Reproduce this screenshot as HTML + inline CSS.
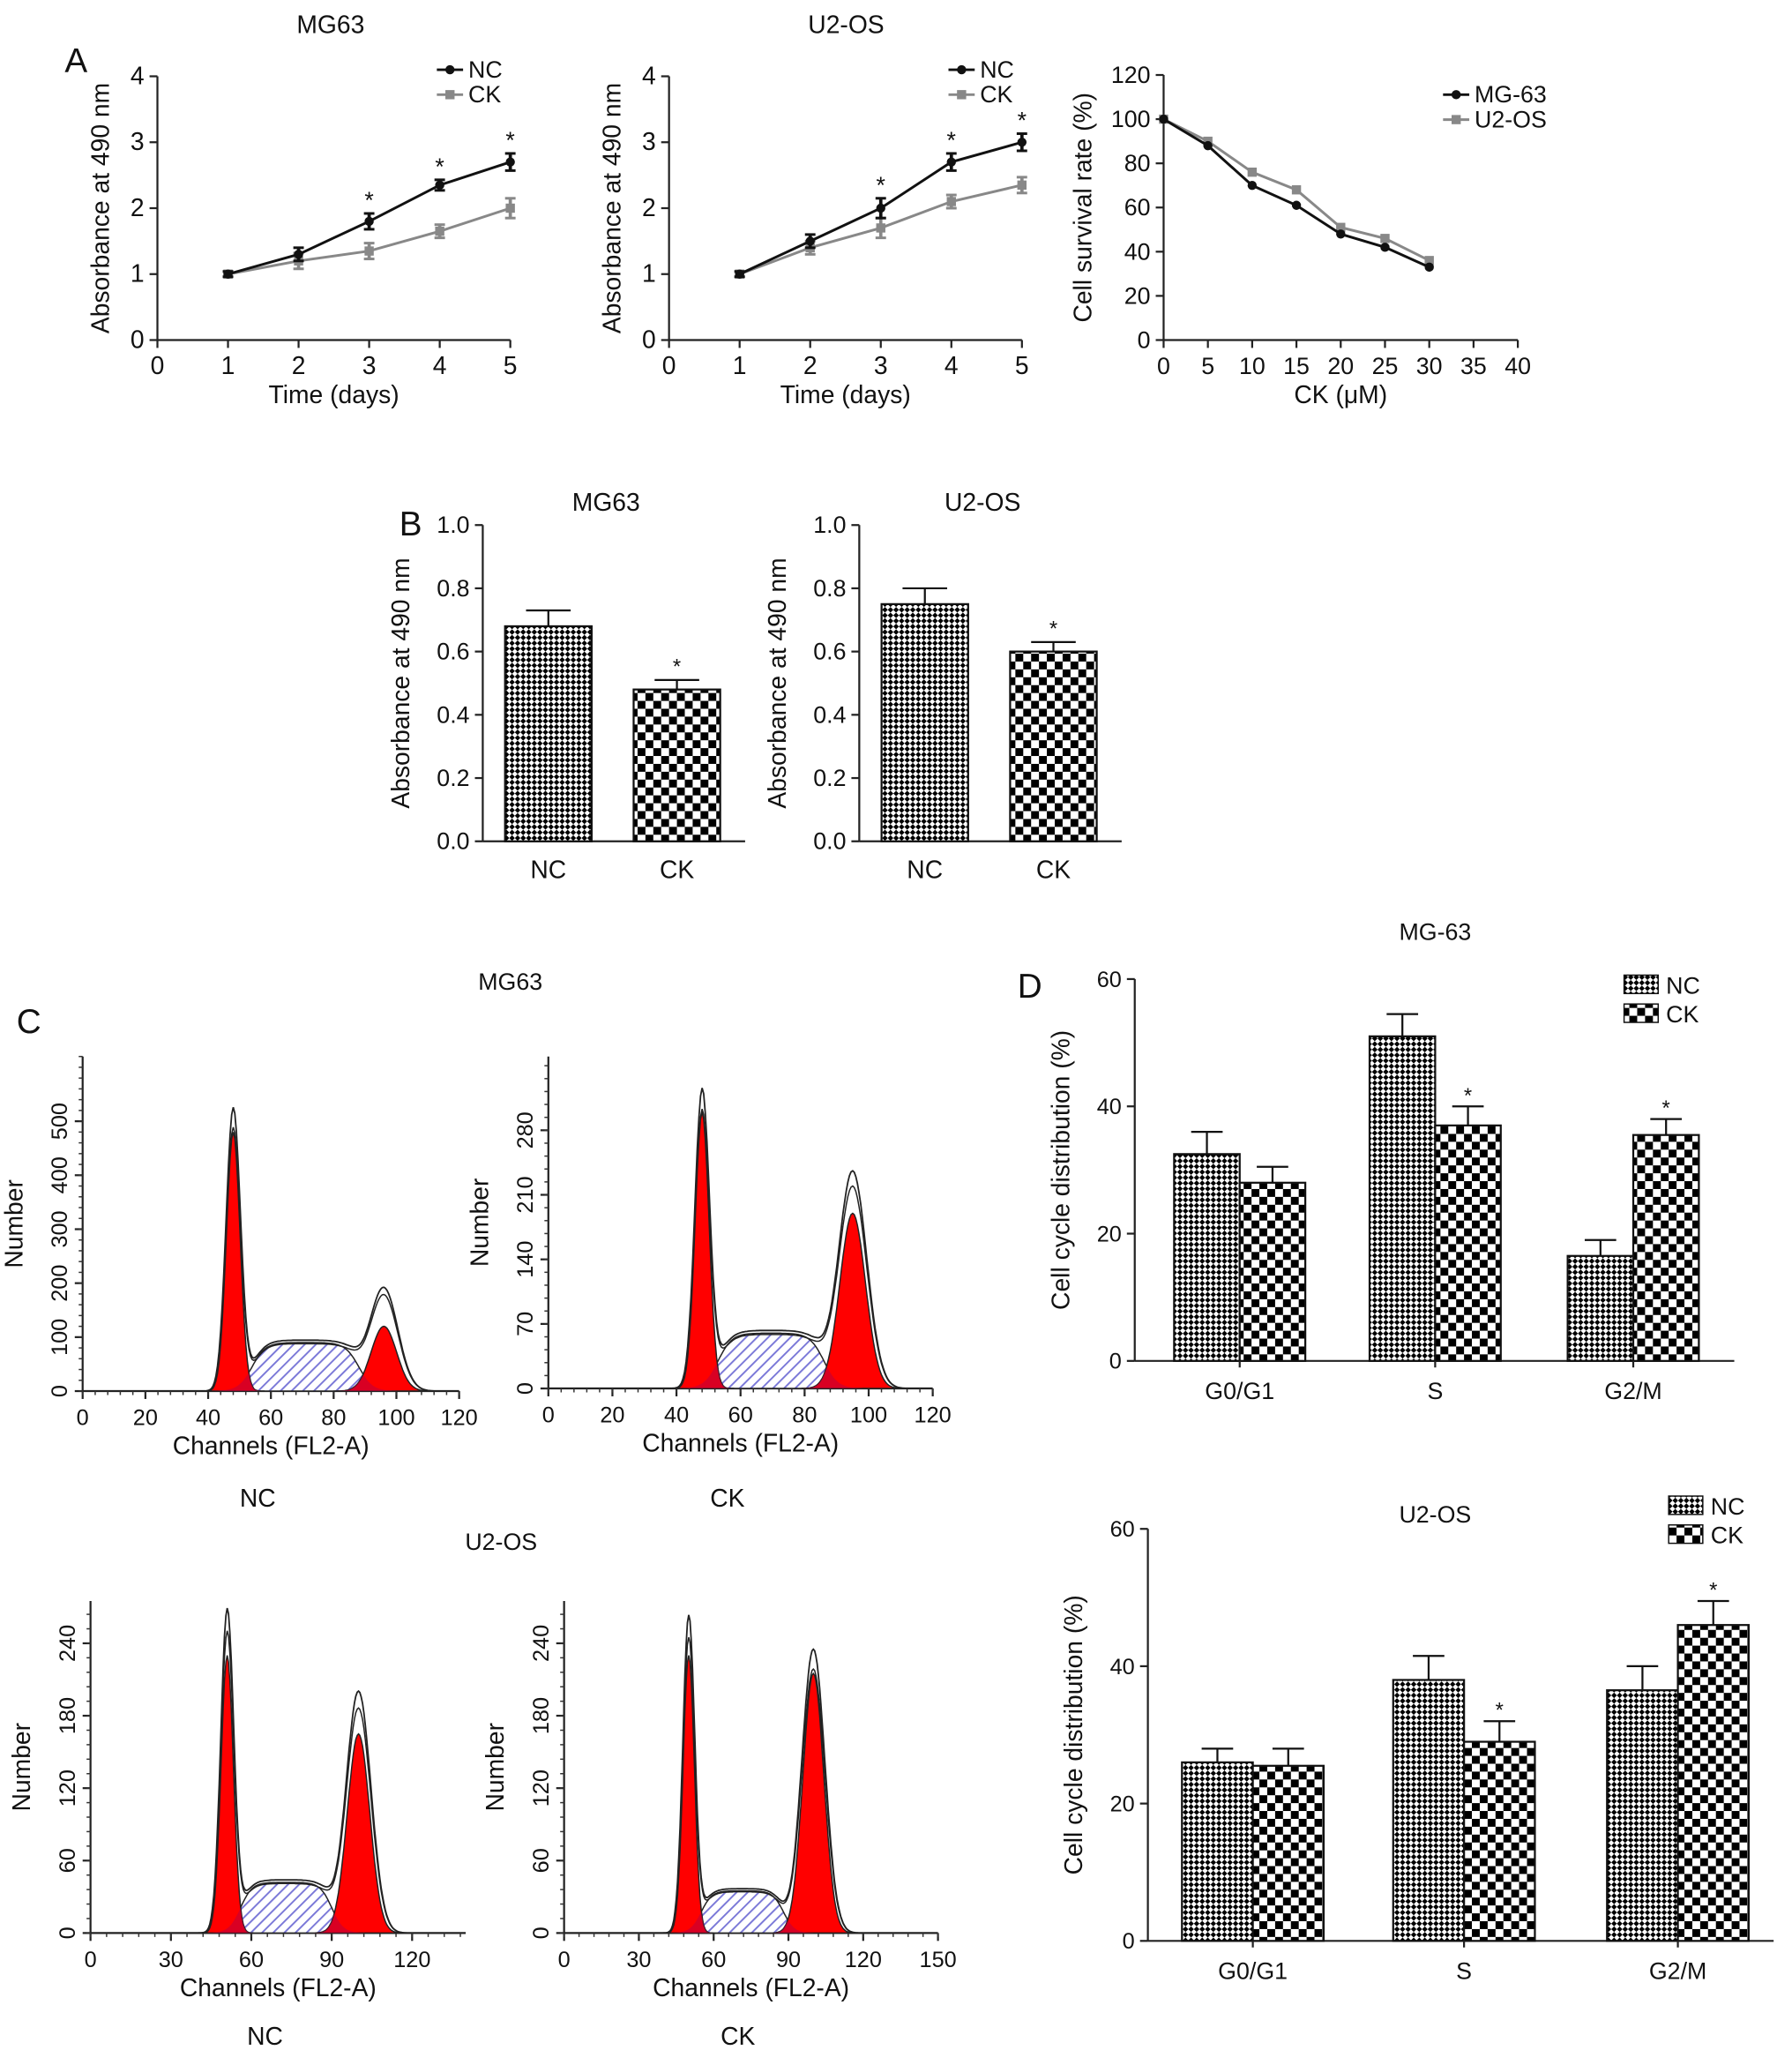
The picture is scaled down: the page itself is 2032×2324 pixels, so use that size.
<!DOCTYPE html>
<html><head><meta charset="utf-8"><style>
html,body{margin:0;padding:0;background:#fff;}
svg{display:block;font-family:"Liberation Sans",Arial,sans-serif;}
</style></head><body>
<svg id="fig" width="2032" height="2324" viewBox="0 0 1366 1562" xmlns="http://www.w3.org/2000/svg">
<defs>
<pattern id="pNC" width="6" height="6" patternUnits="userSpaceOnUse" patternTransform="rotate(45)"><rect width="6" height="6" fill="#fff"/><rect width="3" height="3" fill="#000"/><rect x="3" y="3" width="3" height="3" fill="#000"/></pattern>
<pattern id="pCK" width="12" height="12" patternUnits="userSpaceOnUse"><rect width="12" height="12" fill="#fff"/><rect width="6" height="6" fill="#000"/><rect x="6" y="6" width="6" height="6" fill="#000"/></pattern>
<pattern id="pHatch" width="6" height="6" patternUnits="userSpaceOnUse" patternTransform="rotate(45)"><rect width="6" height="6" fill="#fff"/><rect width="1.3" height="6" fill="#7a78d8"/></pattern>
</defs>
<g id="root"></g>
</svg>
<script>
// ---------- data ----------
const days=[1,2,3,4,5];
const mgNC=[1,1.3,1.8,2.35,2.7], mgNCerr=[0.04,0.1,0.12,0.08,0.13];
const mgCK=[1,1.2,1.35,1.65,2.0], mgCKerr=[0.04,0.12,0.12,0.1,0.15];
const mgStars=[false,false,true,true,true];
const u2NC=[1,1.5,2.0,2.7,3.0], u2NCerr=[0.04,0.1,0.15,0.13,0.13];
const u2CK=[1,1.4,1.7,2.1,2.35], u2CKerr=[0.04,0.1,0.15,0.1,0.12];
const u2Stars=[false,false,true,true,true];
const dose=[0,5,10,15,20,25,30];
const survMG=[100,88,70,61,48,42,33];
const survU2=[100,90,76,68,51,46,36];
const bGroups=['NC','CK'];
const bMG=[0.68,0.48], bMGerr=[0.05,0.03];
const bU2=[0.75,0.60], bU2err=[0.05,0.03];
const phases=['G0/G1','S','G2/M'];
const dMGnc=[32.5,51,16.5], dMGncErr=[3.5,3.5,2.5];
const dMGck=[28,37,35.5], dMGckErr=[2.5,3,2.5];
const dU2nc=[26,38,36.5], dU2ncErr=[2,3.5,3.5];
const dU2ck=[25.5,29,46], dU2ckErr=[2.5,3,3.5];
// histogram component params: [G1 pos, G1 height, S start, S end, S height, G2 pos, G2 height, outline extra G1, outline extra G2]
const hMGnc=[48,480,54,88,90,96,120,40,70];
const hMGck=[48,300,53,86,60,95,190,20,45];
const hU2nc=[51,230,56,90,42,100,165,35,35];
const hU2ck=[50,230,55,88,35,100,215,30,20];

const NS='http://www.w3.org/2000/svg';
const root=document.getElementById('root');
function el(tag,attrs,parent){const e=document.createElementNS(NS,tag);for(const k in attrs)e.setAttribute(k,attrs[k]);(parent||root).appendChild(e);return e;}
function txt(s,x,y,size,parent,anchor,rot){const t=el('text',{x:x,y:y,'font-size':size,'text-anchor':anchor||'middle',fill:'#111'},parent);if(rot)t.setAttribute('transform','rotate(-90 '+x+' '+y+')');t.textContent=s;return t;}
function scale(d0,d1,p0,p1){return v=>p0+(v-d0)/(d1-d0)*(p1-p0);}

function axes(g,o){
  const X=scale(o.xmin,o.xmax,o.x0,o.x1),Y=scale(o.ymin,o.ymax,o.y0,o.y1);
  const xa=el('line',{x1:o.x0,y1:o.y0,x2:o.x1,y2:o.y0,stroke:'#222','stroke-width':1.5},g);
  
  
  const ya=el('line',{x1:o.x0,y1:o.y0,x2:o.x0,y2:o.y1,stroke:'#222','stroke-width':1.5},g);
  
  
  if(o.xticks) o.xticks.forEach(v=>{el('line',{x1:X(v),y1:o.y0,x2:X(v),y2:o.y0+6,stroke:'#222','stroke-width':1.5},g);
    const t=txt(String(v),X(v),o.y0+26,o.fs||18,g);
    
    });
  if(o.xminor) for(let v=o.xmin;v<=o.xmax;v+=o.xminor) el('line',{x1:X(v),y1:o.y0,x2:X(v),y2:o.y0+3,stroke:'#333','stroke-width':1},g);
  o.yticks.forEach(v=>{el('line',{x1:o.x0-6,y1:Y(v),x2:o.x0,y2:Y(v),stroke:'#222','stroke-width':1.5},g);
    let t;
    if(o.yrot) t=txt(String(v),o.x0-12,Y(v),o.fs||18,g,'middle',true);
    else t=txt(o.yfmt?o.yfmt(v):String(v),o.x0-10,Y(v)+6,o.fs||18,g,'end');
    
    });
  if(o.yminor) for(let v=o.ymin;v<=o.ymax+1e-9;v+=o.yminor) el('line',{x1:o.x0-3,y1:Y(v),x2:o.x0,y2:Y(v),stroke:'#333','stroke-width':1},g);
  if(o.xtitle){const t=txt(o.xtitle,(o.x0+o.x1)/2,o.y0+48,19,g);}
  if(o.ytitle){const t=txt(o.ytitle,o.ytx,(o.y0+o.y1)/2,19,g,'middle',true);}
  return {X,Y};
}

function series(g,ax,xs,ys,errs,color,marker){
  const pts=xs.map((x,i)=>ax.X(x)+','+ax.Y(ys[i])).join(' ');
  const pl=el('polyline',{points:pts,fill:'none',stroke:color,'stroke-width':2},g);
  
  
  xs.forEach((x,i)=>{
    if(errs){const e=errs[i];el('line',{x1:ax.X(x),y1:ax.Y(ys[i]-e),x2:ax.X(x),y2:ax.Y(ys[i]+e),stroke:color,'stroke-width':2.5},g);
      el('line',{x1:ax.X(x)-4,y1:ax.Y(ys[i]+e),x2:ax.X(x)+4,y2:ax.Y(ys[i]+e),stroke:color,'stroke-width':2},g);
      el('line',{x1:ax.X(x)-4,y1:ax.Y(ys[i]-e),x2:ax.X(x)+4,y2:ax.Y(ys[i]-e),stroke:color,'stroke-width':2},g);}
    let m;
    if(marker==='sq') m=el('rect',{x:ax.X(x)-3.5,y:ax.Y(ys[i])-3.5,width:7,height:7,fill:color},g);
    else m=el('circle',{cx:ax.X(x),cy:ax.Y(ys[i]),r:3.5,fill:color},g);
    
    
  });
}
function legend(g,x,y,items){
  items.forEach((it,i)=>{const yy=y+i*19;
    el('line',{x1:x,y1:yy,x2:x+20,y2:yy,stroke:it[1],'stroke-width':2},g);
    if(it[2]==='sq') el('rect',{x:x+6.5,y:yy-3.5,width:7,height:7,fill:it[1]},g); else el('circle',{cx:x+10,cy:yy,r:3.5,fill:it[1]},g);
    const t=txt(it[0],x+24,yy+6,18,g,'start');
    
    });
}

// ---------- Panel A ----------
const pA=el('g',{});


let t=txt('A',58,55,26,pA);
function growth(x0,x1,title,nc,ncE,ck,ckE,stars,tx,name){
  const g=el('g',{},pA);
  
  
  const ax=axes(g,{x0:x0,x1:x1,xmin:0,xmax:5,y0:259,y1:58,ymin:0,ymax:4,xticks:[0,1,2,3,4,5],yticks:[0,1,2,3,4],fs:19,xtitle:'Time (days)',ytitle:'Absorbance at 490 nm',ytx:x0-37});
  series(g,ax,days,ck,ckE,'#888','sq');
  series(g,ax,days,nc,ncE,'#111','c');
  days.forEach((d,i)=>{if(stars[i]){const s=txt('*',ax.X(d),ax.Y(nc[i]+ncE[i])-4,18,g);}});
  const tt=txt(title,tx,25,19,g);
  legend(g,x1-56,53,[['NC','#111','c'],['CK','#888','sq']]);
}
growth(120,389,'MG63',mgNC,mgNCerr,mgCK,mgCKerr,mgStars,252,'mg63-growth-chart');
growth(510,779,'U2-OS',u2NC,u2NCerr,u2CK,u2CKerr,u2Stars,645,'u2os-growth-chart');
(function(){
  const g=el('g',{},pA);
  
  
  const ax=axes(g,{x0:887,x1:1157,xmin:0,xmax:40,y0:259,y1:57,ymin:0,ymax:120,xticks:[0,5,10,15,20,25,30,35,40],yticks:[0,20,40,60,80,100,120],xtitle:'CK (\u03bcM)',ytitle:'Cell survival rate (%)',ytx:832});
  series(g,ax,dose,survU2,null,'#888','sq');
  series(g,ax,dose,survMG,null,'#111','c');
  legend(g,1100,72,[['MG-63','#111','c'],['U2-OS','#888','sq']]);
})();

// ---------- Panel B ----------
const pB=el('g',{});


t=txt('B',313,408,26,pB);
function barB(x0,title,vals,errs,name){
  const g=el('g',{},pB);
  
  
  const ax=axes(g,{x0:x0,x1:x0+200,xmin:0,xmax:2,y0:641,y1:400,ymin:0,ymax:1,yticks:[0,0.2,0.4,0.6,0.8,1.0],yfmt:v=>v.toFixed(1),ytitle:'Absorbance at 490 nm',ytx:x0-56});
  const Y=ax.Y;
  vals.forEach((v,i)=>{const cx=x0+50+i*98;
    const r=el('rect',{x:cx-33,y:Y(v),width:66,height:Y(0)-Y(v),fill:i?'url(#pCK)':'url(#pNC)',stroke:'#111','stroke-width':1.5},g);
    
    
    el('line',{x1:cx,y1:Y(v),x2:cx,y2:Y(v+errs[i]),stroke:'#111','stroke-width':1.5},g);
    el('line',{x1:cx-17,y1:Y(v+errs[i]),x2:cx+17,y2:Y(v+errs[i]),stroke:'#111','stroke-width':1.5},g);
    const l=txt(bGroups[i],cx,669,19,g);
    if(i===1){const s=txt('*',cx,Y(v+errs[i])-5,16,g);}
  });
  const tt=txt(title,x0+94,389,19,g);
}
barB(368,'MG63',bMG,bMGerr,'mg63-bar-chart');
barB(655,'U2-OS',bU2,bU2err,'u2os-bar-chart');

// ---------- Panel C ----------
const pC=el('g',{});


t=txt('C',22,787,26,pC);
t=txt('MG63',389,754,18,pC);
t=txt('U2-OS',382,1181,18,pC);
function gauss(c,m,h,s){return h*Math.exp(-(c-m)*(c-m)/(2*s*s));}
function plateau(c,a,b,h){const k=2.2;return h/(1+Math.exp(-(c-a)/k))/(1+Math.exp((c-b)/k));}
function hist(o,p,name,sub){
  const g=el('g',{},pC);
  
  
  const ax=axes(g,{x0:o.x0,x1:o.x1,xmin:0,xmax:o.xmax,y0:o.y0,y1:o.ytop,ymin:0,ymax:o.ymax,xticks:o.xt,xminor:o.xmaj/5,yticks:o.yt,yminor:o.ymaj/5,yrot:true,xtitle:'Channels (FL2-A)',ytitle:'Number',ytx:o.x0-46,fs:17});
  const X=ax.X,Y=ax.Y,s1=p[0]*0.045,s2=p[5]*0.042;
  function path(f,c0,c1){let d='M'+X(c0)+','+Y(0);for(let c=c0;c<=c1;c+=0.5)d+=' L'+X(c).toFixed(1)+','+Y(f(c)).toFixed(1);return d+' L'+X(c1)+','+Y(0)+'Z';}
  function line(f,c0,c1){let d='';for(let c=c0;c<=c1;c+=0.5)d+=(d?' L':'M')+X(c).toFixed(1)+','+Y(f(c)).toFixed(1);return d;}
  const sFill=el('path',{d:path(c=>plateau(c,p[2],p[3],p[4]),p[2]-12,p[3]+12),fill:'url(#pHatch)',stroke:'#222','stroke-width':1},g);
  
  
  const g1=el('path',{d:path(c=>gauss(c,p[0],p[1],s1),p[0]-10,p[0]+10),fill:'#f00',stroke:'#222','stroke-width':1},g);
  
  
  const g2=el('path',{d:path(c=>gauss(c,p[5],p[6],s2),p[5]-16,p[5]+16),fill:'#f00',stroke:'#222','stroke-width':1},g);
  
  
  el('path',{d:path(c=>Math.min(plateau(c,p[2],p[3],p[4]),gauss(c,p[0],p[1],s1)+gauss(c,p[5],p[6],s2)),p[2]-12,p[3]+12),fill:'#c0003a',opacity:0.6,stroke:'none'},g);
  const tot=c=>gauss(c,p[0],p[1]+p[7],s1*1.05)+plateau(c,p[2],p[3],p[4]*1.05)+gauss(c,p[5],p[6]+p[8],s2*1.1);
  const o1=el('path',{d:line(tot,p[0]-12,Math.min(o.xmax,p[5]+18)),fill:'none',stroke:'#222','stroke-width':1.2},g);
  
  
  el('path',{d:line(c=>tot(c)*0.93,p[0]-10,Math.min(o.xmax,p[5]+16)),fill:'none',stroke:'#222','stroke-width':1},g);
  const st=txt(sub,(o.x0+o.x1)/2-10,o.y0+o.sy,19,g);
}
hist({x0:63,x1:350,xmax:120,xt:[0,20,40,60,80,100,120],xmaj:20,y0:1060,ytop:805,ymax:620,yt:[0,100,200,300,400,500],ymaj:100,sy:88},hMGnc,'mg63-nc-histogram','NC');
hist({x0:418,x1:711,xmax:120,xt:[0,20,40,60,80,100,120],xmaj:20,y0:1058,ytop:805,ymax:360,yt:[0,70,140,210,280],ymaj:70,sy:90},hMGck,'mg63-ck-histogram','CK');
hist({x0:69,x1:355,xmax:140,xt:[0,30,60,90,120],xmaj:30,y0:1473,ytop:1220,ymax:275,yt:[0,60,120,180,240],ymaj:60,sy:85},hU2nc,'u2os-nc-histogram','NC');
hist({x0:430,x1:715,xmax:150,xt:[0,30,60,90,120,150],xmaj:30,y0:1473,ytop:1220,ymax:275,yt:[0,60,120,180,240],ymaj:60,sy:85},hU2ck,'u2os-ck-histogram','CK');

// ---------- Panel D ----------
const pD=el('g',{});


t=txt('D',785,760,26,pD);
function cyc(o,nc,ncE,ck,ckE,title,name){
  const g=el('g',{},pD);
  
  
  const ax=axes(g,{x0:o.x0,x1:o.x1,xmin:0,xmax:3,y0:o.y0,y1:o.ytop,ymin:0,ymax:60,yticks:[0,20,40,60],ytitle:'Cell cycle distribution (%)',ytx:o.x0-50,fs:17});
  const Y=ax.Y;
  phases.forEach((ph,i)=>{const c=o.c[i];
    [[nc,ncE,'url(#pNC)',-1],[ck,ckE,'url(#pCK)',0]].forEach((s,j)=>{
      const v=s[0][i],e=s[1][i],x=c+s[3]*o.bw;
      const r=el('rect',{x:x,y:Y(v),width:o.bw,height:Y(0)-Y(v),fill:s[2],stroke:'#111','stroke-width':1.5},g);
      
      
      const xc=x+o.bw/2;
      el('line',{x1:xc,y1:Y(v),x2:xc,y2:Y(v+e),stroke:'#111','stroke-width':1.5},g);
      el('line',{x1:xc-12,y1:Y(v+e),x2:xc+12,y2:Y(v+e),stroke:'#111','stroke-width':1.5},g);
      if(j===1&&i>0){const s2=txt('*',xc,Y(v+e)-3,16,g);}
    });
    el('line',{x1:c,y1:o.y0,x2:c,y2:o.y0+5,stroke:'#222','stroke-width':1.5},g);
    const l=txt(ph,c,o.y0+29,18,g);
  });
  const tt=txt(title,o.tx,o.ty,18,g);
  [['NC','url(#pNC)'],['CK','url(#pCK)']].forEach((it,i)=>{
    el('rect',{x:o.lx,y:o.ly+i*22-8,width:o.lw,height:14,fill:it[1],stroke:'#111'},g);
    const lt=txt(it[0],o.lx+o.lw+6,o.ly+i*22+6,18,g,'start');
  });
}
cyc({x0:865,x1:1322,y0:1037,ytop:746,c:[945,1094,1245],bw:50,tx:1094,ty:716,lx:1238,ly:751,lw:26},dMGnc,dMGncErr,dMGck,dMGckErr,'MG-63','mg63-cycle-chart');
cyc({x0:875,x1:1352,y0:1479,ytop:1165,c:[955,1116,1279],bw:54,tx:1094,ty:1160,lx:1272,ly:1148,lw:26},dU2nc,dU2ncErr,dU2ck,dU2ckErr,'U2-OS','u2os-cycle-chart');
</script>
</body></html>
